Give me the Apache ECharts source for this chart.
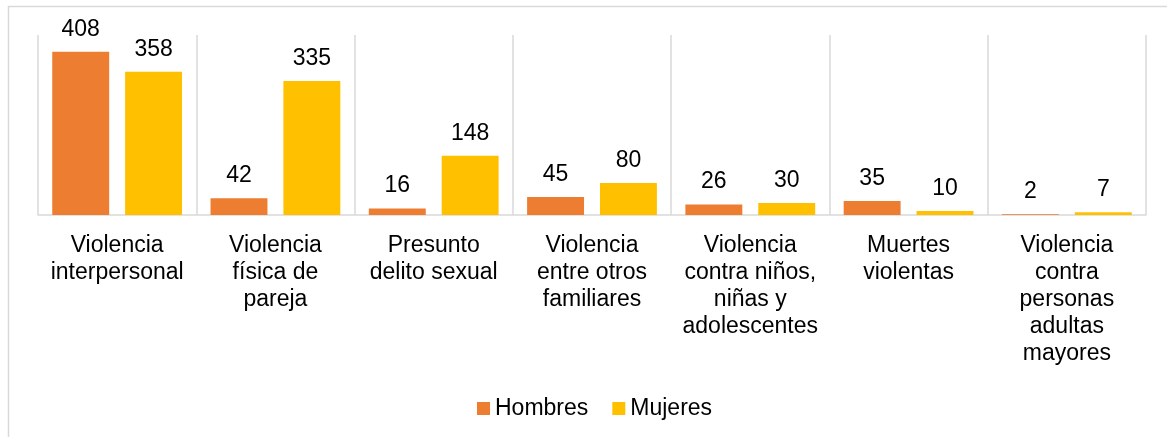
<!DOCTYPE html>
<html>
<head>
<meta charset="utf-8">
<script src="https://cdn.jsdelivr.net/npm/echarts@6/dist/echarts.min.js"></script>
<style>
html,body{margin:0;padding:0;background:#fff;}
#chart{width:1167px;height:437px;}
</style>
</head>
<body>
<div id="chart"></div>
<script>
const categories = [
  'Violencia\ninterpersonal',
  'Violencia\nfísica de\npareja',
  'Presunto\ndelito sexual',
  'Violencia\nentre otros\nfamiliares',
  'Violencia\ncontra niños,\nniñas y\nadolescentes',
  'Muertes\nviolentas',
  'Violencia\ncontra\npersonas\nadultas\nmayores'
];
const hombres = [408, 42, 16, 45, 26, 35, 2];
const mujeres = [358, 335, 148, 80, 30, 10, 7];
const seriesNames = ['Hombres', 'Mujeres'];

const font = 'Liberation Sans, Arial, sans-serif';
const chart = echarts.init(document.getElementById('chart'));
const labelStyle = {
  show: true, position: 'top', distance: 11,
  color: '#000', fontSize: 23, fontFamily: font
};
chart.setOption({
  animation: false,
  backgroundColor: '#fff',
  graphic: [{
    type: 'rect', silent: true,
    shape: { x: 8.5, y: 6.5, width: 1300, height: 600 },
    style: { fill: 'none', stroke: '#d9d9d9', lineWidth: 1.5 }
  }],
  grid: { left: 38, right: 21, top: 35, bottom: 222, containLabel: false },
  legend: {
    data: seriesNames,
    left: 477, top: 397, padding: 0,
    itemWidth: 13, itemHeight: 13, itemGap: 24,
    icon: 'rect',
    textStyle: { color: '#000', fontSize: 23, fontFamily: font }
  },
  xAxis: {
    type: 'category',
    data: categories,
    boundaryGap: true,
    axisLine: { show: true, lineStyle: { color: '#d9d9d9', width: 1.5 } },
    axisTick: { show: false },
    splitLine: { show: true, lineStyle: { color: '#d9d9d9', width: 1.5 } },
    axisLabel: {
      interval: 0, margin: 17, color: '#000',
      fontSize: 23, lineHeight: 27, fontFamily: font, align: 'center'
    }
  },
  yAxis: {
    type: 'value', min: 0, max: 450, show: false,
    splitLine: { show: false }
  },
  series: [
    {
      name: seriesNames[0], type: 'bar', data: hombres,
      itemStyle: { color: '#ED7D31' },
      barGap: '28%', barCategoryGap: '18%',
      label: labelStyle
    },
    {
      name: seriesNames[1], type: 'bar', data: mujeres,
      itemStyle: { color: '#FFC000' },
      barGap: '28%', barCategoryGap: '18%',
      label: labelStyle
    }
  ]
});
</script>
</body>
</html>
